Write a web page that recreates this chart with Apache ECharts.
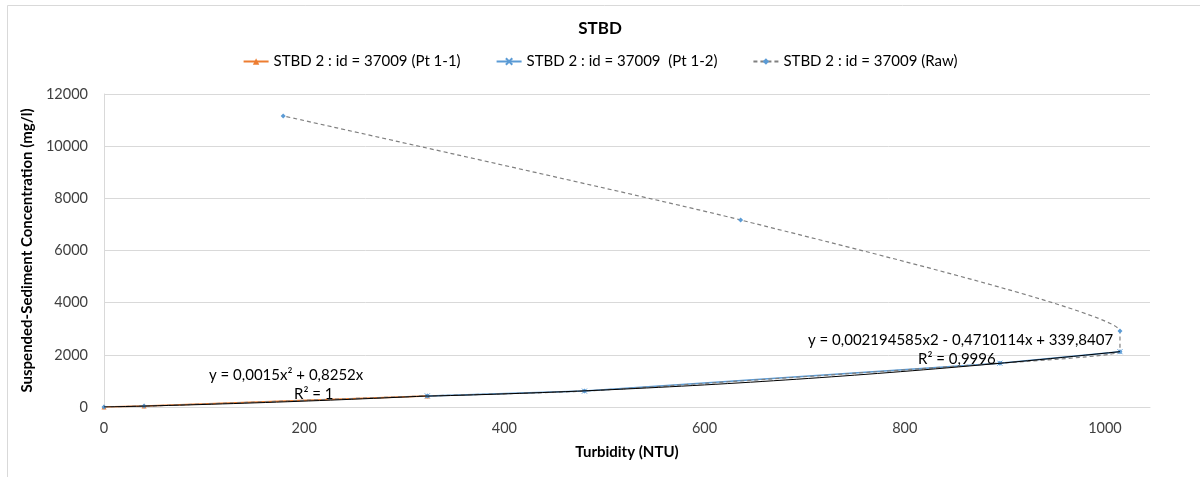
<!DOCTYPE html>
<html>
<head>
<meta charset="utf-8">
<script src="https://cdn.jsdelivr.net/npm/echarts@6/dist/echarts.min.js"></script>
<style>
  html, body { margin: 0; padding: 0; background: #fff; }
  #chart { width: 1200px; height: 477px; }
</style>
</head>
<body>
<div id="chart"></div>
<script>
// Turbidity (NTU) vs suspended-sediment concentration (mg/l)
const pt11 = [[0, 0], [40, 35], [323, 423]];
const pt12 = [[323, 425], [480, 610], [895, 1680], [1015, 2120]];
const raw = [[0, 0], [40, 35], [323, 425], [480, 610], [895, 1680], [1015, 2120], [1015, 2910], [636, 7170], [179, 11160]];

// Polynomial trendline coefficients [a, b, c] for y = a*x^2 + b*x + c
const fit1Coef = [0.0015, 0.8252, 0];
const fit2Coef = [0.002194585, -0.4710114, 339.8407];
const fit1Range = [0, 323];
const fit2Range = [323, 1015];

const seriesNames = ['STBD 2 : id = 37009 (Pt 1-1)', 'STBD 2 : id = 37009  (Pt 1-2)', 'STBD 2 : id = 37009 (Raw)'];
const xTicks = [0, 200, 400, 600, 800, 1000];
const yTicks = [0, 2000, 4000, 6000, 8000, 10000, 12000];

function trend(coef, range, steps) {
  const out = [];
  for (let i = 0; i <= steps; i++) {
    const x = range[0] + (range[1] - range[0]) * i / steps;
    out.push([x, coef[0] * x * x + coef[1] * x + coef[2]]);
  }
  return out;
}

const font = 'Lato, "Open Sans", sans-serif';
const crossPath = 'path://M0,0L10,10M10,0L0,10';

const chart = echarts.init(document.getElementById('chart'), null, { renderer: 'canvas' });
chart.setOption({
  animation: false,
  backgroundColor: '#fff',
  title: {
    text: 'STBD', left: 'center', top: 15,
    textStyle: { fontFamily: font, fontSize: 17, fontWeight: 'bold', color: '#000' }
  },
  legend: {
    top: 49, left: 'center', itemGap: 35, itemWidth: 25, itemHeight: 8,
    textStyle: { fontFamily: font, fontSize: 15, color: '#000' },
    data: seriesNames
  },
  grid: { left: 104, right: 50, top: 94, bottom: 70 },
  xAxis: {
    type: 'value', min: 0, max: 1045, interval: 200,
    name: 'Turbidity (NTU)', nameLocation: 'middle', nameGap: 38,
    nameTextStyle: { fontFamily: font, fontSize: 15, fontWeight: 'bold', color: '#000' },
    axisLine: { show: true, lineStyle: { color: '#d9d9d9', width: 1 } },
    axisTick: { show: false },
    splitLine: { show: false },
    axisLabel: {
      fontFamily: font, fontSize: 14.5, color: '#404040', margin: 14, showMaxLabel: false,
      formatter: v => (xTicks.includes(v) ? String(v) : '')
    }
  },
  yAxis: {
    type: 'value', min: 0, max: 12000, interval: 2000,
    name: 'Suspended-Sediment Concentration (mg/l)', nameLocation: 'middle', nameGap: 67,
    nameTextStyle: { fontFamily: font, fontSize: 15, fontWeight: 'bold', color: '#000' },
    axisLine: { show: true, lineStyle: { color: '#d9d9d9', width: 1 } },
    axisTick: { show: false },
    splitLine: { show: true, lineStyle: { color: '#d9d9d9', width: 1 } },
    axisLabel: {
      fontFamily: font, fontSize: 14.5, color: '#404040', margin: 16,
      formatter: v => (yTicks.includes(v) ? String(v) : '')
    }
  },
  series: [
    {
      name: seriesNames[0], type: 'line', data: pt11,
      lineStyle: { color: '#ed7d31', width: 1.5 },
      symbol: 'triangle', symbolSize: 5,
      itemStyle: { color: '#ed7d31' }, z: 3
    },
    {
      name: seriesNames[1], type: 'line', data: pt12,
      lineStyle: { color: '#5b9bd5', width: 1.5 },
      symbol: crossPath, symbolSize: 5,
      itemStyle: { color: '#5b9bd5', borderColor: '#5b9bd5', borderWidth: 1 }, z: 3
    },
    {
      name: seriesNames[2], type: 'line', data: raw, smooth: 0.15,
      lineStyle: { color: '#808080', width: 1.2, type: [4, 3] },
      symbol: 'diamond', symbolSize: 5,
      itemStyle: { color: '#5b9bd5' }, z: 4
    },
    {
      name: 'fit1', type: 'line', data: trend(fit1Coef, fit1Range, 30),
      showSymbol: false, silent: true,
      lineStyle: { color: '#000', width: 1 }, z: 5
    },
    {
      name: 'fit2', type: 'line', data: trend(fit2Coef, fit2Range, 60),
      showSymbol: false, silent: true,
      lineStyle: { color: '#000', width: 1 }, z: 5
    }
  ],
  graphic: [
    { type: 'rect', shape: { x: 7.5, y: 5.5, width: 1300, height: 600 }, style: { fill: 'none', stroke: '#d9d9d9', lineWidth: 1 }, silent: true },
    { type: 'text', left: 209, top: 368, style: { text: 'y = 0,0015x² + 0,8252x', font: '15px ' + font, fill: '#000' }, z: 10 },
    { type: 'text', left: 294, top: 387, style: { text: 'R² = 1', font: '15px ' + font, fill: '#000' }, z: 10 },
    { type: 'text', left: 808, top: 333, style: { text: 'y = 0,002194585x2 - 0,4710114x + 339,8407', font: '15px ' + font, fill: '#000' }, z: 10 },
    { type: 'text', left: 918, top: 352, style: { text: 'R² = 0,9996', font: '15px ' + font, fill: '#000' }, z: 10 }
  ]
});
</script>
</body>
</html>
